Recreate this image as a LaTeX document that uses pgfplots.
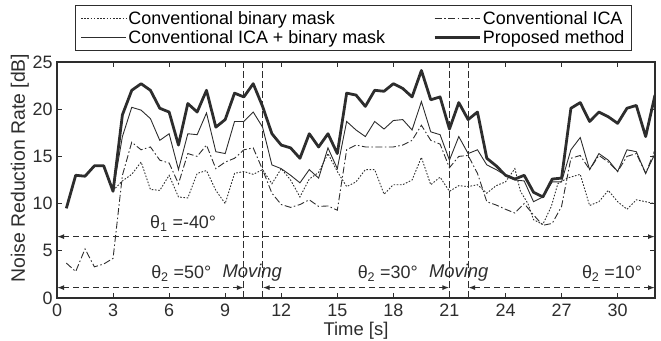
\documentclass[border=0pt]{standalone}
\usepackage{fontspec}
\setmainfont{Liberation Sans}
\usepackage{pgfplots}
\pgfplotsset{compat=1.18}
\usetikzlibrary{arrows.meta}
\definecolor{ink}{RGB}{45,45,45}
\begin{document}
\begin{tikzpicture}
\useasboundingbox (0,0) rectangle (661bp,341bp);
\begin{axis}[
  at={(57bp,43bp)}, anchor=south west,
  scale only axis, width=598bp, height=236bp,
  xmin=0, xmax=32, ymin=0, ymax=25,
  xtick={0,3,...,30}, ytick={0,5,...,25},
  tick align=inside, major tick length=5bp,
  axis line style={line width=1.2pt, ink},
  tick style={ink, line width=0.8pt},
  xlabel={Time [s]},
  ylabel={Noise Reduction Rate [dB]},
  xlabel style={font=\fontsize{18.5}{20}\selectfont, text=ink, inner sep=1bp, at={(axis description cs:0.5,0)}, anchor=center, yshift=-32.5bp},
  ylabel style={font=\fontsize{19.5}{21}\selectfont, text=ink, at={(axis description cs:-0.062,0.55)}, anchor=center},
  ticklabel style={font=\fontsize{18}{20}\selectfont, text=ink},
  xticklabel style={anchor=center, inner sep=1bp, yshift=-12bp},
  yticklabel style={anchor=east, xshift=-1bp},
  /pgf/number format/assume math mode=true,
  legend columns=2,
  legend cell align=left,
  legend style={at={(axis description cs:0.0301,1.2415)}, anchor=north west,
    draw=ink, line width=1.2pt, font=\fontsize{18}{20}\selectfont,
    cells={anchor=west},
    inner xsep=5bp, inner ysep=4bp, row sep=0bp,
    /tikz/every even column/.append style={column sep=46bp}},
  legend image code/.code={\draw[#1] (0bp,0bp) -- (45bp,0bp);},
]
% vertical boundaries
\addplot[forget plot, ink, line width=0.8pt, dash pattern=on 7bp off 3bp] coordinates {(10,0) (10,25)};
\addplot[forget plot, ink, line width=0.8pt, dash pattern=on 7bp off 3bp] coordinates {(11,0) (11,25)};
\addplot[forget plot, ink, line width=0.8pt, dash pattern=on 7bp off 3bp] coordinates {(21,0) (21,25)};
\addplot[forget plot, ink, line width=0.8pt, dash pattern=on 7bp off 3bp] coordinates {(22,0) (22,25)};
% horizontal arrows
\addplot[forget plot, ink, line width=1.4pt, dash pattern=on 6bp off 4bp, {Latex[length=7bp,width=5bp]}-{Latex[length=7bp,width=5bp]}] coordinates {(0,6.5) (32,6.5)};
\addplot[forget plot, ink, line width=1.4pt, dash pattern=on 6bp off 4bp, {Latex[length=7bp,width=5bp]}-{Latex[length=7bp,width=5bp]}] coordinates {(0,1.1) (10,1.1)};
\addplot[forget plot, ink, line width=1.4pt, dash pattern=on 6bp off 4bp, {Latex[length=7bp,width=5bp]}-{Latex[length=7bp,width=5bp]}] coordinates {(11,1.1) (21,1.1)};
\addplot[forget plot, ink, line width=1.4pt, dash pattern=on 6bp off 4bp, {Latex[length=7bp,width=5bp]}-{Latex[length=7bp,width=5bp]}] coordinates {(22,1.1) (32,1.1)};

% Conventional binary mask
\addplot[ink, line width=0.9pt, dash pattern=on 1.6bp off 1.6bp] coordinates {
(3.0,11.4) (3.5,12.4) (4.0,13.1) (4.5,14.4) (5.0,11.5) (5.5,11.4) (6.0,13.0) (6.5,10.7) (7.0,10.6) (7.5,13.2) (8.0,13.5) (8.5,11.4) (9.0,10.0) (9.5,13.2) (10.0,13.4) (10.5,13.1) (11.0,13.6) (11.5,12.1) (12.0,13.7) (12.5,12.5) (13.0,10.7) (13.5,12.6) (14.0,13.3) (14.5,15.3) (15.0,13.4) (15.5,11.8) (16.0,12.3) (16.5,13.6) (17.0,13.6) (17.5,11.0) (18.0,12.0) (18.5,12.0) (19.0,12.5) (19.5,14.9) (20.0,12.0) (20.5,12.8) (21.0,11.3) (21.5,11.9) (22.0,11.8) (22.5,12.0) (23.0,11.1) (23.5,11.9) (24.0,12.3) (24.5,13.7) (24.8,11.3) (25.2,10.0) (25.5,8.3) (26.0,7.8) (26.45,9.7) (26.8,12.1) (27.3,12.7) (28.0,13.1) (28.5,9.8) (29.0,10.2) (29.5,11.4) (30.0,10.2) (30.5,9.4) (31.0,10.4) (31.5,10.2) (32.0,10.0)
};
\addlegendentry{Conventional binary mask}
% Conventional ICA
\addplot[ink, line width=0.9pt, dash pattern=on 7bp off 2.5bp on 1.5bp off 2.5bp] coordinates {
(0.5,3.7) (1.0,2.8) (1.5,5.2) (2.0,3.3) (2.5,3.6) (3.0,4.2) (3.5,13.0) (4.0,16.5) (4.5,15.7) (5.0,16.0) (5.5,14.6) (6.0,14.3) (6.5,12.1) (7.0,15.3) (7.5,15.0) (8.0,16.2) (8.5,13.7) (9.0,14.4) (9.5,14.8) (10.0,15.7) (10.5,15.9) (11.0,13.6) (11.5,11.1) (12.0,9.9) (12.5,9.6) (13.0,9.9) (13.5,10.4) (14.0,9.7) (14.5,9.75) (15.0,9.3) (15.5,15.7) (16.0,16.2) (16.5,16.0) (17.0,16.0) (17.5,16.0) (18.0,16.0) (18.5,16.2) (19.0,16.7) (19.5,18.3) (20.0,16.7) (20.5,16.3) (21.0,13.8) (21.5,15.0) (22.0,15.1) (22.5,13.2) (23.0,10.2) (23.5,9.85) (24.0,9.4) (24.5,9.0) (25.0,10.0) (25.5,8.8) (26.0,7.7) (26.5,7.9) (27.0,9.7) (27.5,14.8) (28.0,15.1) (28.5,13.6) (29.0,15.1) (29.5,14.4) (30.0,13.4) (30.5,15.0) (31.0,15.3) (31.5,13.2) (32.0,15.7)
};
\addlegendentry{Conventional ICA}
% Conventional ICA + binary mask
\addplot[ink, line width=0.9pt] coordinates {
(3.0,11.3) (3.5,17.1) (4.0,20.2) (4.5,19.9) (5.0,19.0) (5.5,16.7) (6.0,17.4) (6.5,13.6) (7.0,17.4) (7.5,17.3) (8.0,19.6) (8.5,15.5) (9.0,15.3) (9.5,18.7) (10.0,18.7) (10.5,19.7) (11.0,18.1) (11.5,14.1) (12.0,13.7) (12.5,13.0) (13.0,12.2) (13.5,13.6) (14.0,12.7) (14.5,15.9) (15.0,13.7) (15.5,18.7) (16.0,17.8) (16.5,17.1) (17.0,18.7) (17.5,17.9) (18.0,18.8) (18.5,18.9) (19.0,17.8) (19.5,20.8) (20.0,17.6) (20.5,17.3) (21.0,14.6) (21.5,17.1) (22.0,15.3) (22.5,15.7) (23.0,14.1) (23.5,13.6) (24.0,13.0) (24.5,12.5) (25.0,12.4) (25.5,10.2) (26.0,10.7) (26.5,12.3) (27.0,12.3) (27.5,15.7) (28.0,17.0) (28.5,13.6) (29.0,15.3) (29.5,14.6) (30.0,13.4) (30.5,15.7) (31.0,15.5) (31.5,13.2) (32.0,15.3)
};
\addlegendentry{Conventional ICA + binary mask}
% Proposed method
\addplot[ink, line width=2.8pt, line join=round] coordinates {
(0.5,9.5) (1.0,13.0) (1.5,12.9) (2.0,14.0) (2.5,14.0) (3.0,11.3) (3.5,19.4) (4.0,22.0) (4.5,22.7) (5.0,22.0) (5.5,20.1) (6.0,19.7) (6.5,16.2) (7.0,20.6) (7.5,19.7) (8.0,22.0) (8.5,18.1) (9.0,18.9) (9.5,21.7) (10.0,21.3) (10.5,22.7) (11.0,20.3) (11.5,17.4) (12.0,16.2) (12.5,15.9) (13.0,14.8) (13.5,17.4) (14.0,16.0) (14.5,17.4) (15.0,15.3) (15.5,21.7) (16.0,21.5) (16.5,20.3) (17.0,22.0) (17.5,21.9) (18.0,22.7) (18.5,22.2) (19.0,21.3) (19.5,24.1) (20.0,21.0) (20.5,21.3) (21.0,17.9) (21.5,20.7) (22.0,18.9) (22.5,19.7) (23.0,14.8) (23.5,14.0) (24.0,13.0) (24.5,12.6) (25.0,13.0) (25.5,11.2) (26.0,10.7) (26.5,12.6) (27.0,12.7) (27.5,20.1) (28.0,20.7) (28.5,18.7) (29.0,19.7) (29.5,19.2) (30.0,18.5) (30.5,20.1) (31.0,20.4) (31.5,17.1) (32.0,21.5)
};
\addlegendentry{Proposed method}

\node[font=\fontsize{18}{20}\selectfont, text=ink, fill=white, inner sep=1bp] at (axis cs:6.75,7.9) {θ\textsubscript{1} =-40°};
\node[font=\fontsize{18}{20}\selectfont, text=ink] at (axis cs:6.65,2.6) {θ\textsubscript{2} =50°};
\node[font=\fontsize{18.5}{20}\selectfont\itshape, text=ink] at (axis cs:10.45,2.7) {Moving};
\node[font=\fontsize{18}{20}\selectfont, text=ink] at (axis cs:17.7,2.6) {θ\textsubscript{2} =30°};
\node[font=\fontsize{18.5}{20}\selectfont\itshape, text=ink] at (axis cs:21.5,2.7) {Moving};
\node[font=\fontsize{18}{20}\selectfont, text=ink] at (axis cs:29.7,2.6) {θ\textsubscript{2} =10°};
\end{axis}
\end{tikzpicture}
\end{document}
